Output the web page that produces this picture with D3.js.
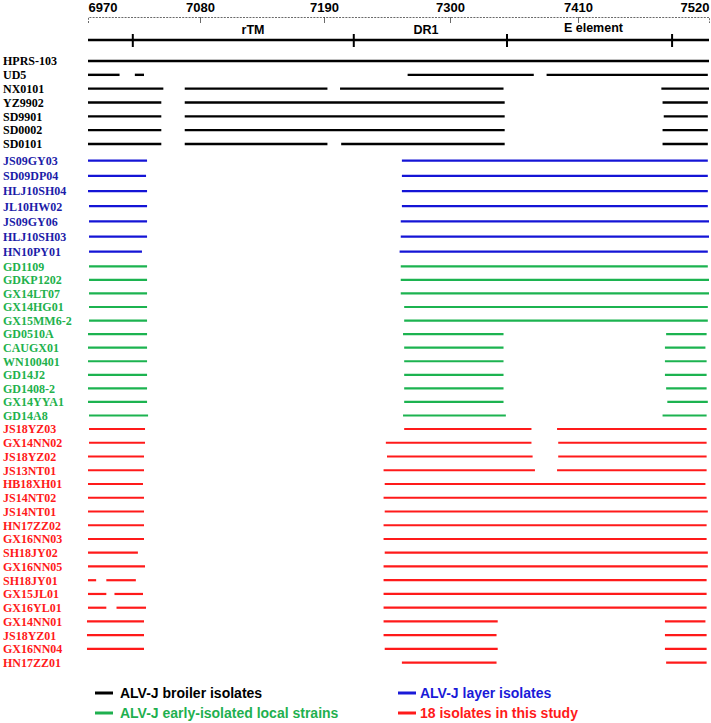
<!DOCTYPE html>
<html><head><meta charset="utf-8">
<script src="https://cdn.jsdelivr.net/npm/d3@7"></script>
<style>body{margin:0;background:#fff}svg{display:block}</style>
</head><body><svg id="c" width="711" height="723"></svg>
<script>
// ---- data ----
const tickValues = [6970, 7080, 7190, 7300, 7410, 7520];
const regionBounds = [7014, 7216, 7349, 7489];
const regionNames = ["rTM", "DR1", "E element"];
const regionLabelPos = [7127, 7279, 7423];

const broilerNames = ["HPRS-103","UD5","NX0101","YZ9902","SD9901","SD0002","SD0101"];
const broilerSegs = [
  [[6970,7520]],
  [[6970,7001],[7016,7025],[7263,7372],[7383,7519]],
  [[6970,7044],[7065,7193],[7204,7346],[7480,7520]],
  [[6970,7042],[7065,7347],[7481,7519]],
  [[6970,7042],[7065,7347],[7482,7519]],
  [[6970,7042],[7065,7347],[7481,7519]],
  [[6970,7042],[7065,7193],[7205,7347],[7481,7519]]
];
const layerNames = ["JS09GY03","SD09DP04","HLJ10SH04","JL10HW02","JS09GY06","HLJ10SH03","HN10PY01"];
const layerSegs = [
  [[6970,7028],[7258,7519]],
  [[6970,7027],[7258,7519]],
  [[6970,7028],[7258,7519]],
  [[6971,7028],[7258,7519]],
  [[6971,7028],[7257,7520]],
  [[6971,7028],[7257,7520]],
  [[6971,7023],[7256,7519]]
];
const localNames = ["GD1109","GDKP1202","GX14LT07","GX14HG01","GX15MM6-2","GD0510A","CAUGX01","WN100401","GD14J2","GD1408-2","GX14YYA1","GD14A8"];
const localSegs = [
  [[6971,7028],[7257,7519]],
  [[6971,7028],[7257,7520]],
  [[6971,7028],[7257,7520]],
  [[6971,7028],[7260,7519]],
  [[6971,7028],[7260,7519]],
  [[6970,7028],[7259,7346],[7484,7518]],
  [[6970,7028],[7260,7346],[7483,7517]],
  [[6970,7028],[7260,7346],[7483,7518]],
  [[6970,7028],[7260,7346],[7483,7518]],
  [[6970,7028],[7260,7346],[7484,7518]],
  [[6970,7028],[7260,7346],[7485,7519]],
  [[6971,7029],[7259,7348],[7481,7518]]
];
const studyNames = ["JS18YZ03","GX14NN02","JS18YZ02","JS13NT01","HB18XH01","JS14NT02","JS14NT01","HN17ZZ02","GX16NN03","SH18JY02","GX16NN05","SH18JY01","GX15JL01","GX16YL01","GX14NN01","JS18YZ01","GX16NN04","HN17ZZ01"];
const studySegs = [
  [[6971,7026],[7260,7370],[7392,7518]],
  [[6971,7026],[7244,7370],[7393,7518]],
  [[6970,7025],[7245,7371],[7393,7518]],
  [[6970,7025],[7242,7373],[7392,7518]],
  [[6970,7024],[7243,7517]],
  [[6970,7025],[7242,7518]],
  [[6970,7025],[7243,7519]],
  [[6970,7025],[7242,7518]],
  [[6970,7025],[7242,7518]],
  [[6970,7019],[7243,7519]],
  [[6970,7026],[7242,7519]],
  [[6970,6978],[6988,7017],[7242,7518]],
  [[6970,6988],[6996,7024],[7242,7518]],
  [[6970,6988],[6998,7027],[7242,7518]],
  [[6969,7025],[7242,7341],[7483,7517]],
  [[6969,7025],[7242,7340],[7483,7518]],
  [[6969,7025],[7243,7341],[7483,7518]],
  [[7258,7340],[7484,7518]]
];
const legendLabels = ["ALV-J broiler isolates","ALV-J layer isolates","ALV-J early-isolated local strains","18 isolates in this study"];

// ---- styles / layout ----
const groups = [
  {names: broilerNames, segs: broilerSegs, line: "#000000", text: "#000000", range: [61, 144], legend: 0},
  {names: layerNames, segs: layerSegs, line: "#1414d6", text: "#1c1ca8", range: [160.7, 251.7], legend: 1},
  {names: localNames, segs: localSegs, line: "#1cb350", text: "#22b14c", range: [266.3, 415.5], legend: 2},
  {names: studyNames, segs: studySegs, line: "#ff1a1a", text: "#ff1a1a", range: [429, 662.7], legend: 3}
];
const legendColors = ["#000000", "#1a1ad8", "#1fb04f", "#ff1a1a"];

const svg = d3.select("#c");
const x = d3.scaleLinear().domain(tickValues).range([88, 200, 324, 450, 578, 709]);

// top axis
const axisY = 17;
const axis = d3.axisTop(x).tickValues(tickValues).tickSize(-6).tickPadding(5).tickFormat(d3.format("d"));
const ag = svg.append("g").attr("transform", `translate(0,${axisY})`).call(axis);
ag.select(".domain").attr("stroke", "#444").attr("stroke-width", 0.8).attr("stroke-dasharray", "2,1.2");
ag.selectAll(".tick line").attr("stroke", "#444").attr("stroke-width", 0.8)
  .filter(d => d === tickValues[0] || d === tickValues[tickValues.length - 1]).remove();
ag.selectAll(".tick text")
  .attr("fill", "#000").attr("font-family", "'Liberation Sans', Arial, sans-serif")
  .attr("font-weight", "bold").attr("font-size", 13)
  .attr("text-anchor", d => d === tickValues[0] ? "start" : d === tickValues[tickValues.length - 1] ? "end" : "middle");

// region bar
const regY = 40;
svg.append("line").attr("x1", x(tickValues[0])).attr("x2", x(tickValues[tickValues.length - 1]))
  .attr("y1", regY).attr("y2", regY).attr("stroke", "#000").attr("stroke-width", 2.5);
svg.selectAll(".rtick").data(regionBounds).enter().append("line")
  .attr("x1", d => x(d)).attr("x2", d => x(d)).attr("y1", regY - 6).attr("y2", regY + 7)
  .attr("stroke", "#000").attr("stroke-width", 2);
svg.selectAll(".rlab").data(regionNames).enter().append("text")
  .attr("x", (d, i) => x(regionLabelPos[i])).attr("y", (d, i) => i === 2 ? 32 : 34)
  .attr("text-anchor", "middle").attr("font-family", "'Liberation Sans', Arial, sans-serif")
  .attr("font-weight", "bold").attr("font-size", 12.5).attr("fill", "#000").text(d => d);

// rows
groups.forEach(g => {
  const y = d3.scalePoint().domain(g.names).range(g.range);
  const rg = svg.append("g");
  rg.selectAll("text").data(g.names).enter().append("text")
    .attr("x", 3).attr("y", d => y(d)).attr("dy", "0.36em")
    .attr("font-family", "'Liberation Serif', 'Times New Roman', serif")
    .attr("font-weight", "bold").attr("font-size", 12).attr("fill", g.text).text(d => d);
  g.names.forEach((n, i) => {
    rg.selectAll(null).data(g.segs[i]).enter().append("line")
      .attr("x1", d => x(d[0])).attr("x2", d => x(d[1]))
      .attr("y1", y(n)).attr("y2", y(n))
      .attr("stroke", g.line).attr("stroke-width", g.legend === 0 ? 2.4 : 2.2);
  });
});

// legend
const legX = [95, 398], legTX = [120, 420], legYs = [693, 713];
const legPos = [[0,0],[1,0],[0,1],[1,1]];
legendLabels.forEach((t, i) => {
  const [c, r] = legPos[i];
  svg.append("line").attr("x1", legX[c]).attr("x2", legX[c] + 18).attr("y1", legYs[r]).attr("y2", legYs[r])
    .attr("stroke", legendColors[i]).attr("stroke-width", 3);
  svg.append("text").attr("x", legTX[c]).attr("y", legYs[r]).attr("dy", "0.36em")
    .attr("font-family", "'Liberation Sans', Arial, sans-serif").attr("font-weight", "bold")
    .attr("font-size", 14).attr("fill", legendColors[i]).text(t);
});
</script></body></html>
